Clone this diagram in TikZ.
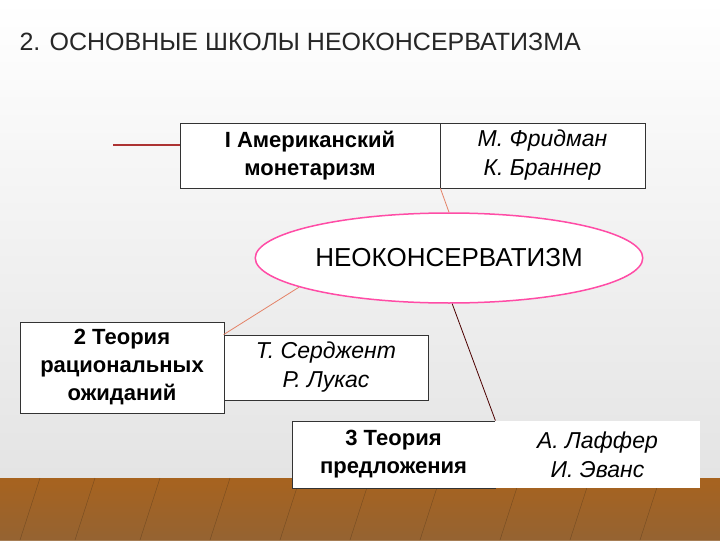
\documentclass[tikz,border=0pt]{standalone}
\usepackage{fontspec}
\setmainfont{Liberation Sans}
\usetikzlibrary{shapes.geometric}
\begin{document}
\begin{tikzpicture}[x=1pt,y=-1pt,
  box/.style={draw=black!80,fill=white,line width=0.8pt,align=center,minimum height=65pt,inner sep=2pt},
  bf/.style={font=\bfseries\fontsize{22}{28}\selectfont},
  it/.style={font=\itshape\fontsize{23}{29}\selectfont},
  lnk/.style={draw=red!40!brown!70,line width=0.8pt}]
\shade[top color=white,bottom color=black!12] (0,0) rectangle (720,540);
\fill[brown!70!black] (0,478) rectangle (720,540);
\shade[top color=brown!55!orange!80!black,bottom color=brown!80!black,opacity=0.8] (0,478) rectangle (720,540);
\foreach \x in {40,95,160,230,300,370,440,520,590,660}{\draw[brown!40!black,opacity=0.5] (\x,478) -- (\x-20,540);}
\node[anchor=west,font=\fontsize{25}{28}\selectfont,text=black!85] (t) at (16,42) {2. ОСНОВНЫЕ ШКОЛЫ НЕОКОНСЕРВАТИЗМА};
\node[box,minimum width=260pt,bf] (b1) at (310,155.5) {I Американский\\монетаризм};
\node[box,minimum width=205pt,it] (b2) at (542.5,155.5) {М. Фридман\\К. Браннер};
\coordinate (p) at (113,145);
\draw[draw=red!60!black!80,line width=2pt] (p) -- (b1.west|-p);
\node[ellipse,draw=red!50!magenta!70,line width=1.5pt,fill=white,minimum width=386pt,minimum height=90pt,font=\fontsize{26}{30}\selectfont] (e) at (449,258) {НЕОКОНСЕРВАТИЗМ};
\draw[lnk] (b1.south east) -- (e.north);
\node[box,minimum width=204pt,minimum height=91pt,bf] (b3) at (122,367.5) {2 Теория\\рациональных\\ожиданий};
\node[box,minimum width=204pt,it] (b4) at (326,367.5) {Т. Серджент\\Р. Лукас};
\draw[lnk] (e.191) -- (b4.north west);
\node[box,minimum width=203pt,minimum height=67pt,bf] (b5) at (393.5,454.5) {3 Теория\\предложения};
\node[box,draw=none,minimum width=205pt,minimum height=67pt,it] (b6) at (597.5,454.5) {А. Лаффер\\И. Эванс};
\draw[lnk,draw=red!30!black] (e.-86) -- (b5.north east);
\end{tikzpicture}
\end{document}
